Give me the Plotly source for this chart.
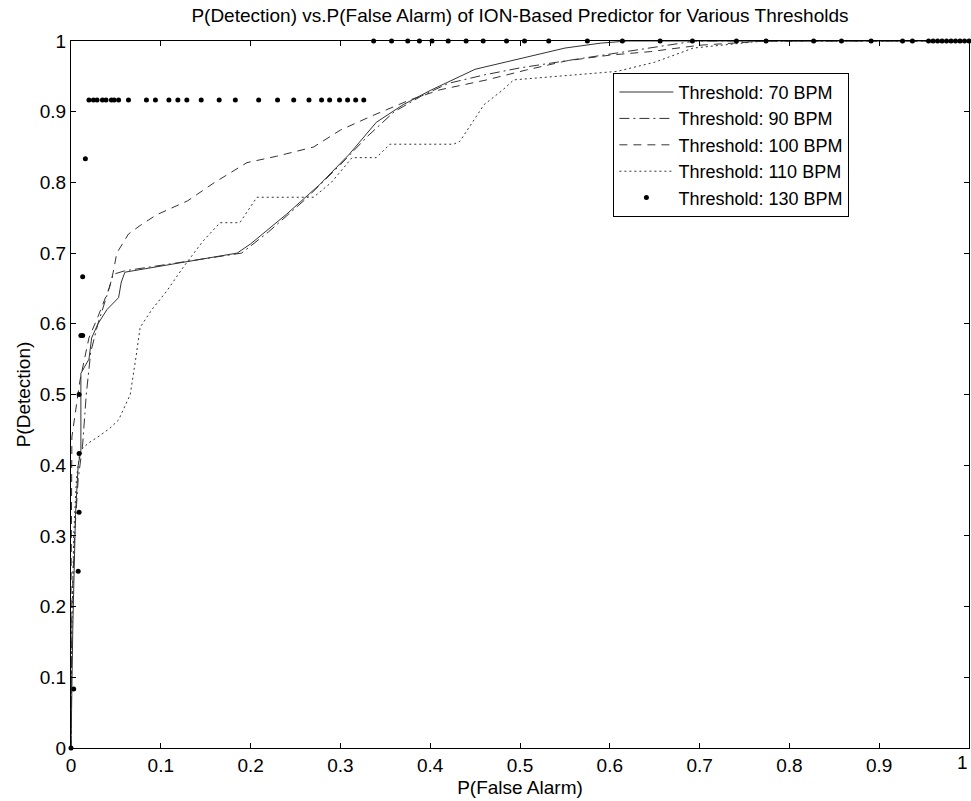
import plotly.graph_objects as go

# ---- data ----
x70 = [0, 0.002, 0.005, 0.008, 0.011, 0.011, 0.02, 0.023, 0.03, 0.04, 0.053, 0.056, 0.06, 0.12, 0.185,
       0.2, 0.24, 0.277, 0.31, 0.34, 0.37, 0.4, 0.45, 0.5, 0.55, 0.59, 0.62, 1.0]
y70 = [0, 0.17, 0.33, 0.40, 0.42, 0.53, 0.55, 0.58, 0.60, 0.62, 0.637, 0.659, 0.673, 0.686, 0.70,
       0.713, 0.755, 0.797, 0.84, 0.885, 0.91, 0.93, 0.96, 0.975, 0.99, 0.997, 1.0, 1.0]

x90 = [0, 0.001, 0.004, 0.008, 0.013, 0.017, 0.022, 0.03, 0.04, 0.047, 0.06, 0.13, 0.19,
       0.22, 0.26, 0.3, 0.33, 0.36, 0.39, 0.42, 0.46, 0.5, 0.55, 0.6, 0.65, 0.695, 1.0]
y90 = [0, 0.2, 0.3, 0.38, 0.43, 0.5, 0.56, 0.6, 0.64, 0.67, 0.675, 0.689, 0.70,
       0.73, 0.775, 0.825, 0.865, 0.9, 0.922, 0.94, 0.952, 0.962, 0.972, 0.982, 0.992, 1.0, 1.0]

x100 = [0, 0, 0.001, 0.01, 0.02, 0.03, 0.043, 0.047, 0.051, 0.064, 0.077, 0.095, 0.13, 0.16, 0.196,
        0.229, 0.27, 0.30, 0.335, 0.378, 0.411, 0.463, 0.507, 0.552, 0.6, 0.645, 0.70, 0.775, 1.0]
y100 = [0, 0.21, 0.44, 0.52, 0.58, 0.61, 0.652, 0.673, 0.70, 0.727, 0.739, 0.754, 0.774, 0.80, 0.828,
        0.837, 0.85, 0.874, 0.894, 0.917, 0.931, 0.945, 0.959, 0.972, 0.98, 0.985, 0.994, 1.0, 1.0]

x110 = [0, 0.001, 0.003, 0.006, 0.01, 0.019, 0.03, 0.043, 0.053, 0.066, 0.072, 0.077, 0.09, 0.107,
        0.125, 0.147, 0.166, 0.188, 0.207, 0.27, 0.29, 0.313, 0.34, 0.355, 0.426, 0.433, 0.46, 0.481,
        0.493, 0.55, 0.608, 0.65, 0.693, 0.77, 1.0]
y110 = [0, 0.17, 0.30, 0.38, 0.42, 0.431, 0.44, 0.452, 0.464, 0.50, 0.55, 0.595, 0.62, 0.647,
        0.68, 0.717, 0.743, 0.743, 0.779, 0.779, 0.80, 0.835, 0.835, 0.854, 0.854, 0.858, 0.91, 0.931,
        0.945, 0.951, 0.957, 0.97, 0.99, 1.0, 1.0]

x130 = [0, 0.003, 0.008, 0.009, 0.009, 0.009, 0.011, 0.013, 0.013, 0.016,
        0.020, 0.025, 0.029, 0.035, 0.039, 0.045, 0.048, 0.053, 0.064, 0.084, 0.094, 0.109, 0.119,
        0.129, 0.145, 0.165, 0.183, 0.209, 0.230, 0.248, 0.265, 0.279, 0.288, 0.299, 0.308, 0.317,
        0.326,
        0.337, 0.357, 0.375, 0.388, 0.402, 0.420, 0.440, 0.459, 0.485, 0.505, 0.532, 0.575, 0.614,
        0.656, 0.692, 0.741, 0.774, 0.827, 0.858, 0.891, 0.926, 0.937, 0.955, 0.96, 0.965, 0.97,
        0.975, 0.98, 0.985, 0.99, 0.995, 1.0]
y130 = [0, 0.0833, 0.25, 0.3333, 0.4167, 0.5, 0.5833, 0.5833, 0.6667, 0.8333] + \
       [0.9167] * 27 + [1.0] * 32

series = [
    ("Threshold: 70 BPM", x70, y70, "solid"),
    ("Threshold: 90 BPM", x90, y90, "10px,4px,2px,4px"),
    ("Threshold: 100 BPM", x100, y100, "8px,6px"),
    ("Threshold: 110 BPM", x110, y110, "2px,3px"),
]

fig = go.Figure()
for name, xs, ys, dash in series:
    fig.add_trace(go.Scatter(x=xs, y=ys, mode="lines", name=name,
                             line=dict(color="#333333", width=1, dash=dash)))
fig.add_trace(go.Scatter(x=x130, y=y130, mode="markers", name="Threshold: 130 BPM",
                         marker=dict(color="black", size=5), cliponaxis=False))

font = "Liberation Sans, Arial, sans-serif"
axis_common = dict(range=[0, 1], showline=True, linecolor="black", linewidth=1,
                   mirror="ticks", ticks="inside", ticklen=5, tickcolor="black",
                   showgrid=False, zeroline=False, dtick=0.1, tick0=0, automargin=False,
                   tickfont=dict(family=font, size=19, color="black"))

fig.update_layout(
    width=971, height=801,
    margin=dict(l=71, r=2, t=41, b=53, autoexpand=False),
    paper_bgcolor="white", plot_bgcolor="white",
    title=dict(text="P(Detection) vs.P(False Alarm) of ION-Based Predictor for Various Thresholds",
               x=0.5355, xanchor="center", y=0.981, yanchor="middle",
               font=dict(family=font, size=19, color="black")),
    xaxis=dict(title=dict(text="P(False Alarm)", font=dict(family=font, size=19, color="black"),
                          standoff=5), **axis_common),
    yaxis=dict(title=dict(text="P(Detection)", font=dict(family=font, size=19, color="black"),
                          standoff=4), **axis_common),
    legend=dict(x=0.604, y=0.955, xanchor="left", yanchor="top",
                bgcolor="white", bordercolor="black", borderwidth=1,
                font=dict(family=font, size=18, color="black"),
                itemwidth=54, tracegroupgap=0),
    showlegend=True,
)

# the last x tick label sits on the page edge; plotly drops it, so place it explicitly
fig.add_annotation(x=1, xref="x", y=0, yref="paper", yanchor="top", yshift=-2,
                   xanchor="right", xshift=1,
                   text="1", showarrow=False, font=dict(family=font, size=19, color="black"))

fig.write_html("out.html", config={"displayModeBar": False},
               post_script="document.body.style.margin='0px';document.body.style.overflow='hidden';")
